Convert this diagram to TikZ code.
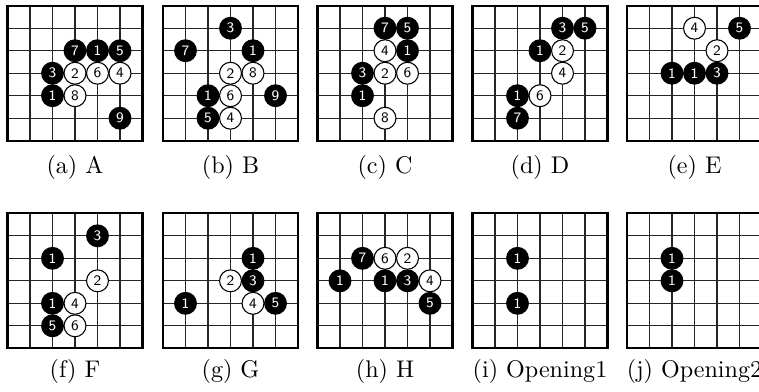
\documentclass[tikz,border=0pt]{standalone}
\begin{document}
\begin{tikzpicture}[x=0.415pt, y=-0.415pt,
      every node/.append style={inner sep=0pt},
      frame/.style={line width=0.9pt},
      gridline/.style={line width=0.45pt, color=black!85}]
    \tikzstyle{blk} = [circle, fill=black, text=white, minimum size=9.5pt, font=\sffamily\fontsize{6}{7}\selectfont]
    \tikzstyle{wht} = [circle, draw=black, fill=white, line width=0.45pt, minimum size=9.1pt, font=\sffamily\fontsize{6}{7}\selectfont]
    \tikzstyle{subcap} = [font=\rmfamily]
    \useasboundingbox (0,0) rectangle (759,391);
    % empty boards and their captions
    \foreach \bx/\by/\cy/\sub/\txt in {7.5/5.7/167.5/a/A, 163/5.7/167.5/b/B, 317.5/5.7/167.5/c/C,
        472.5/5.7/167.5/d/D, 627/5.7/167.5/e/E, 7.5/213.3/371/f/F, 163/213.3/371/g/G,
        317.5/213.3/371/h/H, 472.5/213.3/371/i/Opening1, 627/213.3/371/j/Opening2} {
      \foreach \i in {1,...,5} {
        \draw[gridline] (\bx+22.5*\i,\by) -- ++(0,135);
        \draw[gridline] (\bx,\by+22.5*\i) -- ++(135,0);
      }
      \draw[frame] (\bx,\by) rectangle ++(135,135);
      \node (cap-\sub) [subcap] at (\bx+67.5,\cy) {(\sub) \txt};
    }
    % (a) A
    \begin{scope}[shift={(7.5,5.7)}]
      \foreach \c/\r/\n in {3/2/7, 4/2/1, 5/2/5, 2/3/3, 2/4/1, 5/5/9}
        \node (a-\c-\r) [blk] at (22.5*\c,22.5*\r) {\n};
      \foreach \c/\r/\n in {3/3/2, 4/3/6, 5/3/4, 3/4/8}
        \node (a-\c-\r) [wht] at (22.5*\c,22.5*\r) {\n};
    \end{scope}
    % (b) B
    \begin{scope}[shift={(163,5.7)}]
      \foreach \c/\r/\n in {3/1/3, 1/2/7, 4/2/1, 2/4/1, 5/4/9, 2/5/5}
        \node (b-\c-\r) [blk] at (22.5*\c,22.5*\r) {\n};
      \foreach \c/\r/\n in {3/3/2, 4/3/8, 3/4/6, 3/5/4}
        \node (b-\c-\r) [wht] at (22.5*\c,22.5*\r) {\n};
    \end{scope}
    % (c) C
    \begin{scope}[shift={(317.5,5.7)}]
      \foreach \c/\r/\n in {3/1/7, 4/1/5, 4/2/1, 2/3/3, 2/4/1}
        \node (c-\c-\r) [blk] at (22.5*\c,22.5*\r) {\n};
      \foreach \c/\r/\n in {3/2/4, 3/3/2, 4/3/6, 3/5/8}
        \node (c-\c-\r) [wht] at (22.5*\c,22.5*\r) {\n};
    \end{scope}
    % (d) D
    \begin{scope}[shift={(472.5,5.7)}]
      \foreach \c/\r/\n in {4/1/3, 5/1/5, 3/2/1, 2/4/1, 2/5/7}
        \node (d-\c-\r) [blk] at (22.5*\c,22.5*\r) {\n};
      \foreach \c/\r/\n in {4/2/2, 4/3/4, 3/4/6}
        \node (d-\c-\r) [wht] at (22.5*\c,22.5*\r) {\n};
    \end{scope}
    % (e) E
    \begin{scope}[shift={(627,5.7)}]
      \foreach \c/\r/\n in {5/1/5, 2/3/1, 3/3/1, 4/3/3}
        \node (e-\c-\r) [blk] at (22.5*\c,22.5*\r) {\n};
      \foreach \c/\r/\n in {3/1/4, 4/2/2}
        \node (e-\c-\r) [wht] at (22.5*\c,22.5*\r) {\n};
    \end{scope}
    % (f) F
    \begin{scope}[shift={(7.5,213.3)}]
      \foreach \c/\r/\n in {4/1/3, 2/2/1, 2/4/1, 2/5/5}
        \node (f-\c-\r) [blk] at (22.5*\c,22.5*\r) {\n};
      \foreach \c/\r/\n in {4/3/2, 3/4/4, 3/5/6}
        \node (f-\c-\r) [wht] at (22.5*\c,22.5*\r) {\n};
    \end{scope}
    % (g) G
    \begin{scope}[shift={(163,213.3)}]
      \foreach \c/\r/\n in {4/2/1, 4/3/3, 1/4/1, 5/4/5}
        \node (g-\c-\r) [blk] at (22.5*\c,22.5*\r) {\n};
      \foreach \c/\r/\n in {3/3/2, 4/4/4}
        \node (g-\c-\r) [wht] at (22.5*\c,22.5*\r) {\n};
    \end{scope}
    % (h) H
    \begin{scope}[shift={(317.5,213.3)}]
      \foreach \c/\r/\n in {2/2/7, 1/3/1, 3/3/1, 4/3/3, 5/4/5}
        \node (h-\c-\r) [blk] at (22.5*\c,22.5*\r) {\n};
      \foreach \c/\r/\n in {3/2/6, 4/2/2, 5/3/4}
        \node (h-\c-\r) [wht] at (22.5*\c,22.5*\r) {\n};
    \end{scope}
    % (i) Opening1
    \begin{scope}[shift={(472.5,213.3)}]
      \foreach \c/\r/\n in {2/2/1, 2/4/1}
        \node (i-\c-\r) [blk] at (22.5*\c,22.5*\r) {\n};
    \end{scope}
    % (j) Opening2
    \begin{scope}[shift={(627,213.3)}]
      \foreach \c/\r/\n in {2/2/1, 2/3/1}
        \node (j-\c-\r) [blk] at (22.5*\c,22.5*\r) {\n};
    \end{scope}
\end{tikzpicture}
\end{document}
